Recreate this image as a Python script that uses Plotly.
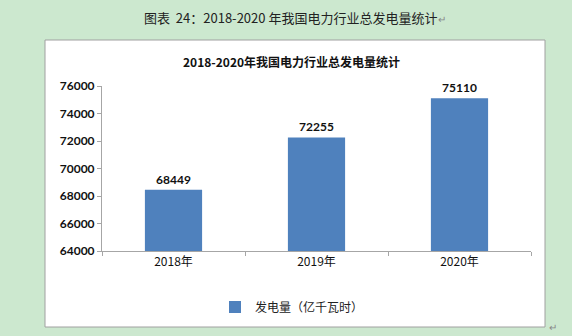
import plotly.graph_objects as go

categories = ["2018年", "2019年", "2020年"]
values = [68449, 72255, 75110]
series_name = "发电量（亿千瓦时）"
chart_title = "2018-2020年我国电力行业总发电量统计"
caption = "图表  24：2018-2020 年我国电力行业总发电量统计"
y_ticks = [64000, 66000, 68000, 70000, 72000, 74000, 76000]

W, H = 572, 336
L, R, T, B = 102, 41, 86, 85
PW, PH = W - L - R, H - T - B

def px(x):
    return (x - L) / PW

def py(y):
    return (H - B - y) / PH

NUM_FONT = "Lato, 'Noto Sans CJK SC', sans-serif"
CJK_FONT = "'Noto Sans CJK SC', sans-serif"

fig = go.Figure()
fig.add_trace(go.Bar(
    x=categories, y=values, name=series_name,
    marker=dict(color="#4f81bd", line=dict(width=0)),
    text=[str(v) for v in values], textposition="outside",
    textfont=dict(family=NUM_FONT, size=12, color="#111111", weight="bold"),
    cliponaxis=False,
))

fig.update_layout(
    width=W, height=H, autosize=False,
    margin=dict(l=L, r=R, t=T, b=B, pad=0),
    paper_bgcolor="rgb(204,232,207)",
    plot_bgcolor="white",
    bargap=0.6,
    showlegend=True,
    legend=dict(orientation="h", x=px(215), xanchor="left", y=py(307), yanchor="middle",
                font=dict(family=CJK_FONT, size=12, color="#222222"),
                bgcolor="rgba(0,0,0,0)"),
    xaxis=dict(showline=True, linecolor="#a6a6a6", linewidth=1, ticks="outside",
               tickson="boundaries", ticklen=4, tickcolor="#a6a6a6",
               tickfont=dict(family=CJK_FONT, size=12, color="#111111"),
               showgrid=False, zeroline=False),
    yaxis=dict(range=[64000, 76000], tickvals=y_ticks, ticktext=[str(v) for v in y_ticks],
               showline=True, linecolor="#a6a6a6",
               linewidth=1, ticks="outside", ticklen=4, tickcolor="#a6a6a6",
               tickfont=dict(family=NUM_FONT, size=12, color="#111111", weight="bold"),
               showgrid=False, zeroline=False),
    shapes=[dict(type="rect", xref="paper", yref="paper", layer="below",
                 x0=px(45), x1=px(545), y0=py(327), y1=py(40),
                 fillcolor="white", line=dict(color="#a0a0a0", width=1))],
    annotations=[
        dict(text="<b>" + chart_title + "</b>", xref="paper", yref="paper",
             x=px(291), y=py(62), xanchor="center", yanchor="middle", showarrow=False,
             font=dict(family=CJK_FONT, size=12, color="#111111")),
        dict(text=caption, xref="paper", yref="paper",
             x=px(290), y=py(17), xanchor="center", yanchor="middle", showarrow=False,
             font=dict(family=CJK_FONT, size=13, color="#222222")),
        dict(text="↵", xref="paper", yref="paper",
             x=px(436), y=py(18), xanchor="left", yanchor="middle", showarrow=False,
             font=dict(family=CJK_FONT, size=10, color="#888888")),
        dict(text="↵", xref="paper", yref="paper",
             x=px(547), y=py(326), xanchor="left", yanchor="middle", showarrow=False,
             font=dict(family=CJK_FONT, size=10, color="#888888")),
    ],
)

fig.write_html("out.html")
